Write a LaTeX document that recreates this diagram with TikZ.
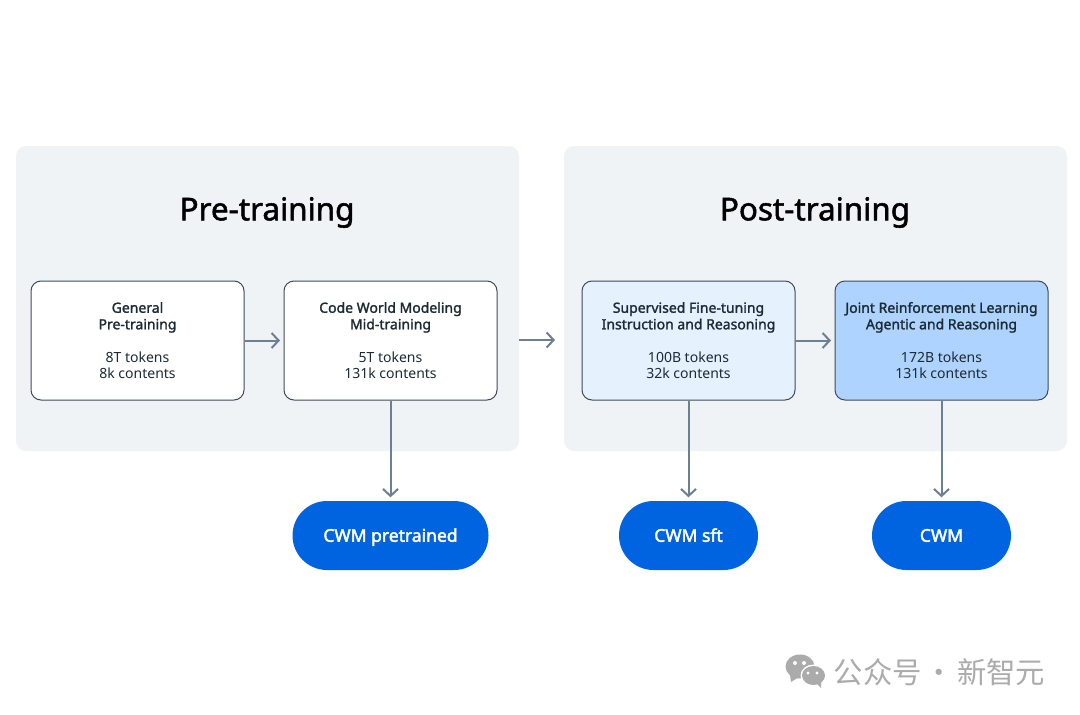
\documentclass[tikz,border=0pt]{standalone}
\usepackage{fontspec}
\setmainfont{Noto Sans}
\newfontfamily\medfont[FakeBold=1.6]{Noto Sans}
\newfontfamily\pillfont[FakeBold=2.4]{Noto Sans}
\newfontfamily\cjkfont{Noto Sans CJK SC}
\usetikzlibrary{positioning,arrows.meta}
\definecolor{panelcol}{HTML}{EFF3F6}
\definecolor{bordercol}{HTML}{3E4B5A}
\definecolor{linecol}{HTML}{6C7F95}
\definecolor{inkcol}{HTML}{1C2B33}
\definecolor{lightcol}{HTML}{E6F1FE}
\definecolor{midcol}{HTML}{AED3FE}
\definecolor{pillcol}{HTML}{0064E0}
\definecolor{markcol}{HTML}{ABABAB}
\newcommand{\stagetext}[4]{{\medfont #1}\\{\medfont #2}\\[16.5pt]#3\\#4}
\tikzset{
  panel/.style={fill=panelcol,rounded corners=10pt,minimum width=503pt,minimum height=305pt,inner sep=0pt},
  heading/.style={font=\medfont\fontsize{31.4}{36}\selectfont,text=black,inner sep=0pt},
  stage/.style={draw=bordercol,line width=1pt,fill=white,rounded corners=10pt,minimum width=213pt,minimum height=119pt,
    inner sep=0pt,align=center,text=inkcol,font=\fontsize{14}{16.5}\selectfont},
  result/.style={fill=pillcol,rounded corners=34.5pt,minimum height=69pt,inner sep=0pt,text=white,
    text height=12.5pt,text depth=0pt,font=\pillfont\fontsize{17.5}{20}\selectfont},
}
\begin{document}
\begin{tikzpicture}[x=1pt,y=-1pt,>={Straight Barb[length=7pt,width=15pt]},->,shorten >=3.5pt,
    every edge/.style={draw=linecol,line width=2pt}]
  \useasboundingbox (0,0) rectangle (1080,715);
  % panels
  \node[panel] (pre) at (267.5,298.5) {};
  \node[panel] (post) at (815.5,298.5) {};
  \node[heading] (pretitle) at (267,212.5) {Pre-training};
  \node[heading] (posttitle) at (815,212.5) {Post-training};
  % stages
  \node[stage] (general) at (137.5,340.5) {\stagetext{General}{Pre-training}{8T tokens}{8k contents}};
  \node[stage,right=39pt of general] (code) {\stagetext{Code World Modeling}{Mid-training}{5T tokens}{131k contents}};
  \node[stage,fill=lightcol] (sft) at (688.5,340.5) {\stagetext{Supervised Fine-tuning}{Instruction and Reasoning}{100B tokens}{32k contents}};
  \node[stage,fill=midcol,right=39pt of sft] (joint) {\stagetext{Joint Reinforcement Learning}{Agentic and Reasoning}{172B tokens}{131k contents}};
  % results
  \node[result,minimum width=196pt] (cwmpre) at (390.5,535.5) {CWM pretrained};
  \node[result,minimum width=139pt] (cwmsft) at (688.5,535.5) {CWM sft};
  \node[result,minimum width=139pt] (cwm) at (941.5,535.5) {CWM};
  % arrows
  \coordinate (preout) at (519,340);
  \coordinate (postin) at (558.5,340);
  \path (general) edge (code);
  \path (preout) edge (postin);
  \path (sft) edge (joint);
  \path (code) edge (cwmpre);
  \path (sft) edge (cwmsft);
  \path (joint) edge (cwm);
  % watermark
  \fill[markcol] (800,666.5) ellipse [x radius=14.5pt,y radius=12pt];
  \fill[markcol] (790,675) -- (791,682) -- (799,677) -- cycle;
  \fill[white] (813.5,675.5) ellipse [x radius=13pt,y radius=11pt];
  \fill[markcol] (813.5,675.5) ellipse [x radius=11.5pt,y radius=9.5pt];
  \fill[markcol] (816,683) -- (821,688) -- (821,681) -- cycle;
  \foreach \dotx/\doty/\dotr in {795/663/2,804/663/2,808/673/1.7,817/673/1.7}
    \fill[white] (\dotx,\doty) circle [radius=\dotr pt];
  \node[inner sep=0pt,text=markcol,font=\cjkfont\fontsize{29.4}{34}\selectfont] (mark) at (939.5,672) {公众号\hspace{0.1em}·\hspace{0.1em}新智元};
\end{tikzpicture}
\end{document}
